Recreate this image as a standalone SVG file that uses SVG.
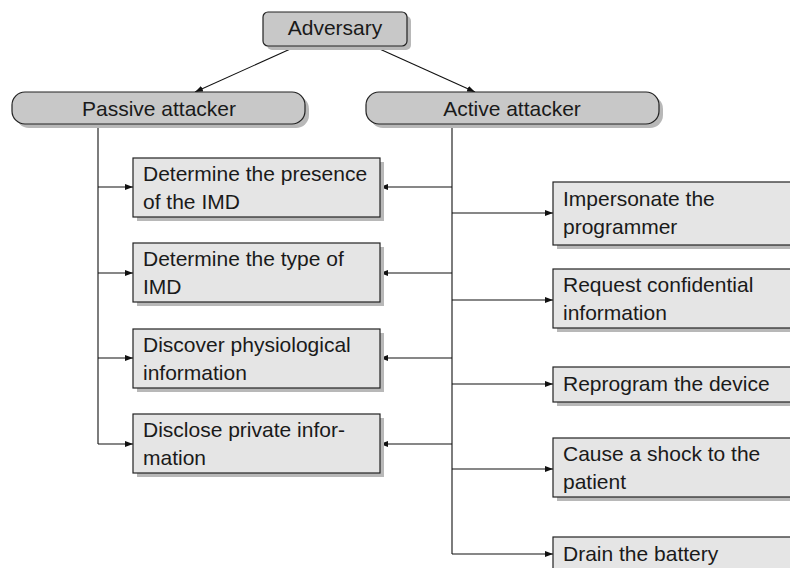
<svg xmlns="http://www.w3.org/2000/svg" width="790" height="568" viewBox="0 0 790 568">
<style>
text{font-family:"Liberation Sans",Arial,sans-serif;font-size:21px;fill:#1a1a1a}
.box{fill:#e5e5e5;stroke:#222;stroke-width:1.2}
.pill{fill:#c8c8c8;stroke:#222;stroke-width:1.2}
.sh{fill:#b8b8b8}
.c{fill:none;stroke:#111;stroke-width:1.1}
.mid{text-anchor:middle}
</style>
<defs>
<marker id="ah" markerUnits="userSpaceOnUse" markerWidth="9" markerHeight="6" refX="8" refY="3" orient="auto">
<path d="M0,0 L8,3 L0,6 z" fill="#111"/>
</marker>
</defs>
<rect width="790" height="568" fill="#fff"/>
<g id="connectors">
<path class="c" d="M297,46 L195,92" marker-end="url(#ah)"/>
<path class="c" d="M373,46 L475,92" marker-end="url(#ah)"/>
<path class="c" d="M98,124 V444"/>
<path class="c" d="M98,187 H133" marker-end="url(#ah)"/>
<path class="c" d="M98,273 H133" marker-end="url(#ah)"/>
<path class="c" d="M98,358 H133" marker-end="url(#ah)"/>
<path class="c" d="M98,444 H133" marker-end="url(#ah)"/>
<path class="c" d="M452,124 V554"/>
<path class="c" d="M452,187 H380" marker-end="url(#ah)"/>
<path class="c" d="M452,273 H380" marker-end="url(#ah)"/>
<path class="c" d="M452,358 H380" marker-end="url(#ah)"/>
<path class="c" d="M452,444 H380" marker-end="url(#ah)"/>
<path class="c" d="M452,213 H553" marker-end="url(#ah)"/>
<path class="c" d="M452,300 H553" marker-end="url(#ah)"/>
<path class="c" d="M452,384 H553" marker-end="url(#ah)"/>
<path class="c" d="M452,469 H553" marker-end="url(#ah)"/>
<path class="c" d="M452,554 H553" marker-end="url(#ah)"/>
</g>
<g id="adversary">
<rect class="sh" x="267" y="16" width="144" height="34" rx="5"/>
<rect class="pill" x="263" y="12" width="144" height="34" rx="5"/>
<text class="mid" x="335" y="35">Adversary</text>
</g>
<g id="passive">
<rect class="sh" x="16" y="96" width="293" height="32" rx="13"/>
<rect class="pill" x="12" y="92" width="293" height="32" rx="13"/>
<text class="mid" x="159" y="116">Passive attacker</text>
</g>
<g id="active">
<rect class="sh" x="370" y="96" width="293" height="32" rx="13"/>
<rect class="pill" x="366" y="92" width="293" height="32" rx="13"/>
<text class="mid" x="512" y="116">Active attacker</text>
</g>
<g id="presence">
<rect class="sh" x="137" y="162" width="247" height="59"/>
<rect class="box" x="133" y="158" width="247" height="59"/>
<text x="143" y="181">Determine the presence</text>
<text x="143" y="209">of the IMD</text>
</g>
<g id="type">
<rect class="sh" x="137" y="247" width="247" height="59"/>
<rect class="box" x="133" y="243" width="247" height="59"/>
<text x="143" y="266">Determine the type of</text>
<text x="143" y="294">IMD</text>
</g>
<g id="physio">
<rect class="sh" x="137" y="333" width="247" height="59"/>
<rect class="box" x="133" y="329" width="247" height="59"/>
<text x="143" y="352">Discover physiological</text>
<text x="143" y="380">information</text>
</g>
<g id="disclose">
<rect class="sh" x="137" y="418" width="247" height="59"/>
<rect class="box" x="133" y="414" width="247" height="59"/>
<text x="143" y="437">Disclose private infor-</text>
<text x="143" y="465">mation</text>
</g>
<g id="impersonate">
<rect class="sh" x="557" y="186" width="260" height="63"/>
<rect class="box" x="553" y="182" width="260" height="63"/>
<text x="563" y="206">Impersonate the</text>
<text x="563" y="234">programmer</text>
</g>
<g id="request">
<rect class="sh" x="557" y="273" width="260" height="59"/>
<rect class="box" x="553" y="269" width="260" height="59"/>
<text x="563" y="292">Request confidential</text>
<text x="563" y="320">information</text>
</g>
<g id="reprogram">
<rect class="sh" x="557" y="371" width="260" height="35"/>
<rect class="box" x="553" y="367" width="260" height="35"/>
<text x="563" y="391">Reprogram the device</text>
</g>
<g id="shock">
<rect class="sh" x="557" y="442" width="260" height="59"/>
<rect class="box" x="553" y="438" width="260" height="59"/>
<text x="563" y="461">Cause a shock to the</text>
<text x="563" y="489">patient</text>
</g>
<g id="drain">
<rect class="sh" x="557" y="541" width="260" height="35"/>
<rect class="box" x="553" y="537" width="260" height="35"/>
<text x="563" y="561">Drain the battery</text>
</g>
</svg>
